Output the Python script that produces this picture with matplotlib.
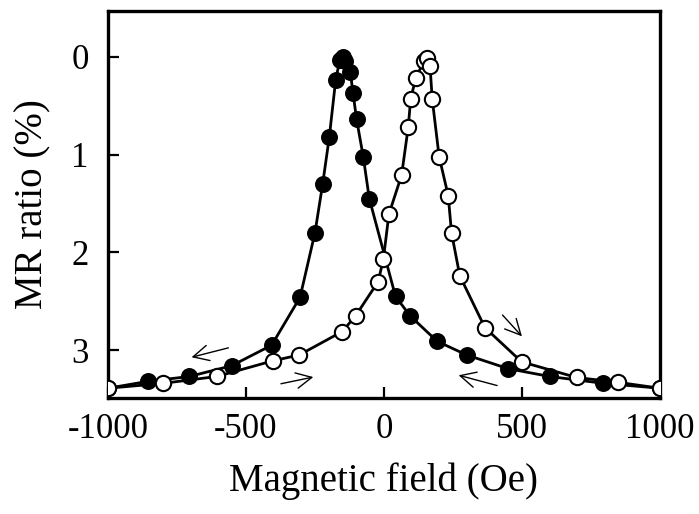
import numpy as np
import matplotlib
matplotlib.use('Agg')
import matplotlib.pyplot as plt

plt.rcParams['font.family'] = ['Liberation Serif', 'DejaVu Serif']
plt.rcParams['axes.unicode_minus'] = False

# ---- data ----
# field decreasing (+1000 -> -1000), filled circles
h_down = [-1000, -856, -705, -552, -407, -304, -250, -222, -198, -175, -160,
          -150, -140, -122, -112, -99, -75, -53, 42, 95, 193, 300, 450, 601,
          795, 1000]
mr_down = [3.39, 3.32, 3.27, 3.16, 2.95, 2.46, 1.80, 1.30, 0.82, 0.24, 0.03,
           0.00, 0.04, 0.15, 0.37, 0.64, 1.02, 1.45, 2.45, 2.65, 2.91, 3.05,
           3.19, 3.27, 3.34, 3.39]
# field increasing (-1000 -> +1000), open circles
h_up = [-1000, -800, -606, -403, -307, -151, -103, -21, -2, 18, 64, 88, 97,
        115, 145, 155, 167, 175, 200, 233, 245, 275, 366, 499, 698, 849, 1000]
mr_up = [3.39, 3.34, 3.27, 3.11, 3.05, 2.81, 2.65, 2.30, 2.07, 1.61, 1.21,
         0.72, 0.43, 0.22, 0.04, 0.01, 0.09, 0.43, 1.02, 1.42, 1.80, 2.24,
         2.77, 3.12, 3.28, 3.33, 3.39]

# sweep direction arrows: (start, end)
arrows = [((-554, 2.97), (-707, 3.08)),
          ((-383, 3.35), (-246, 3.27)),
          ((423, 2.62), (507, 2.88)),
          ((420, 3.37), (261, 3.25))]

xticks = [-1000, -500, 0, 500, 1000]
yticks = [0, 1, 2, 3]

fig = plt.figure(figsize=(6.99, 5.14), dpi=100)
ax = fig.add_axes([0.1545, 0.2257, 0.7895, 0.7529])

ax.plot(h_down, mr_down, '-o', color='black', lw=2.0, ms=11,
        mfc='black', mec='black', mew=1.2, zorder=3)
ax.plot(h_up, mr_up, '-o', color='black', lw=2.0, ms=11,
        mfc='white', mec='black', mew=1.5, zorder=4)

for (x0, y0), (x1, y1) in arrows:
    ax.annotate('', xy=(x1, y1), xytext=(x0, y0),
                arrowprops=dict(arrowstyle='->', lw=1.0, color='black',
                                mutation_scale=28))

ax.set_xlim(-1000, 1000)
ax.set_ylim(3.49, -0.47)
ax.set_xticks(xticks)
ax.set_xticklabels([str(v) for v in xticks])
ax.set_yticks(yticks)
ax.tick_params(direction='in', length=8, width=1.6, labelsize=25)
ax.tick_params(axis='x', pad=11)
ax.tick_params(axis='y', pad=14)
for sp in ax.spines.values():
    sp.set_linewidth(2.4)

ax.set_xlabel('Magnetic field (Oe)', fontsize=28, labelpad=12)
ax.set_ylabel('MR ratio (%)', fontsize=28, labelpad=14)

fig.savefig('out.png', dpi=100)
